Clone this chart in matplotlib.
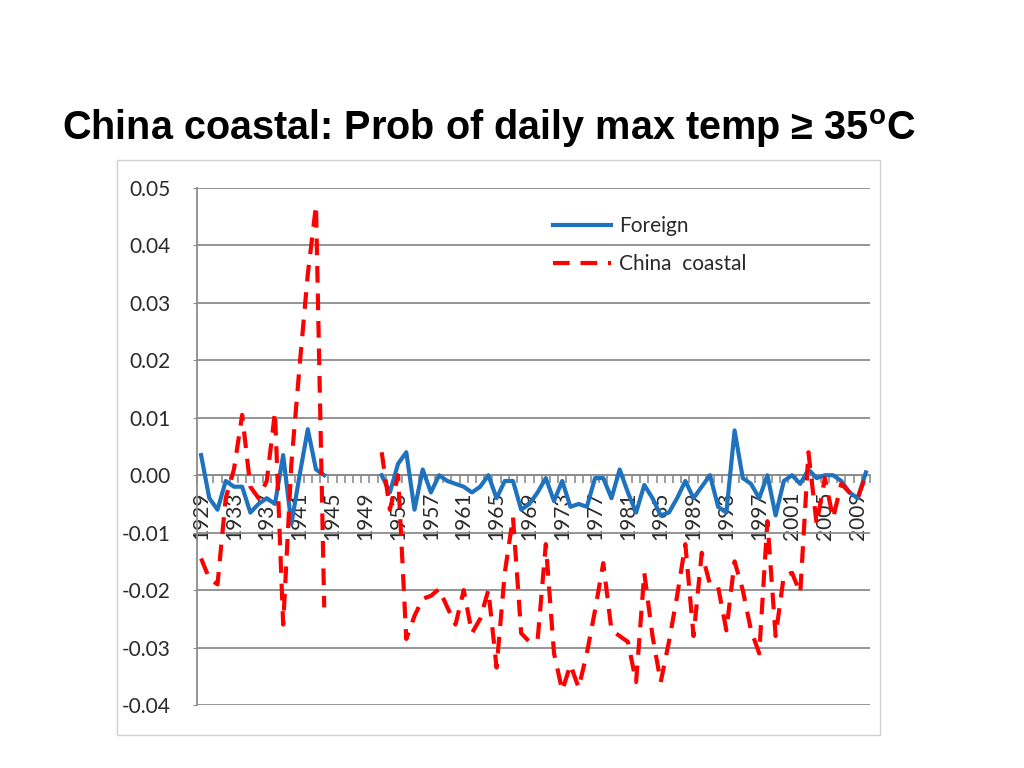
import numpy as np
import matplotlib
matplotlib.use("Agg")
import matplotlib.pyplot as plt
from matplotlib.patches import Rectangle

nan = np.nan

years = list(range(1929, 2011))

# Foreign stations (blue); no data 1945-1950
foreign = [0.0035, -0.004, -0.006, -0.001, -0.002, -0.002, -0.0065, -0.005,
           -0.004, -0.005, 0.0035, -0.0085, 0.0, 0.008, 0.001, 0.0,
           nan, nan, nan, nan, nan, nan,
           0.0, -0.003, 0.002, 0.004, -0.006, 0.001, -0.003, 0.0,
           -0.001, -0.0015, -0.002, -0.003, -0.002, 0.0, -0.004, -0.001,
           -0.001, -0.006, -0.005, -0.003, -0.0005, -0.0045, -0.001, -0.0055,
           -0.005, -0.0055, -0.0005, -0.0005, -0.004, 0.001, -0.003, -0.0065,
           -0.0017, -0.004, -0.007, -0.0065, -0.004, -0.001, -0.004, -0.002,
           0.0, -0.0055, -0.0065, 0.0078, -0.0005, -0.0015, -0.004, 0.0,
           -0.007, -0.001, 0.0, -0.0015, 0.001, -0.0005, 0.0, 0.0,
           -0.001, -0.003, -0.004, 0.0005]

# China coastal stations (red dashed)
china = [-0.0145, -0.018, -0.019, -0.004, 0.001, 0.0105, -0.002, -0.004,
         -0.001, 0.011, -0.026, 0.002, 0.019, 0.035, 0.047, -0.023,
         nan, nan, nan, nan, nan, nan,
         0.004, -0.006, 0.0, -0.0285, -0.0245, -0.0215, -0.021, -0.0198,
         -0.023, -0.026, -0.020, -0.0275, -0.025, -0.020, -0.0335, -0.017,
         -0.0073, -0.0275, -0.029, -0.0287, -0.012, -0.031, -0.0375, -0.033,
         -0.037, -0.031, -0.0235, -0.0153, -0.027, -0.028, -0.029, -0.036,
         -0.017, -0.028, -0.036, -0.029, -0.021, -0.012, -0.028, -0.0135,
         -0.019, -0.0195, -0.027, -0.015, -0.020, -0.027, -0.031, -0.008,
         -0.028, -0.0175, -0.017, -0.0205, 0.004, -0.0085, -0.0005, -0.0075,
         -0.0015, -0.003, -0.004, 0.0]

ytick_vals = [-0.04, -0.03, -0.02, -0.01, 0.0, 0.01, 0.02, 0.03, 0.04, 0.05]

plt.rcParams['font.family'] = ['Lato', 'DejaVu Sans']
plt.rcParams['mathtext.fontset'] = 'custom'
plt.rcParams['mathtext.rm'] = 'Liberation Sans:bold'

fig = plt.figure(figsize=(10.24, 7.68), dpi=100)
fig.patch.set_facecolor('white')

# title
fig.text(62 / 1024, 1 - 140 / 768,
         "China coastal: Prob of daily max temp \u2265 35$^{\\mathrm{o}}$C",
         family='Liberation Sans', fontweight='bold', fontsize=28.5,
         color='black', va='baseline', ha='left')

# chart border
fig.patches.append(Rectangle((117 / 1024, 1 - 735 / 768), 763 / 1024, 575 / 768,
                             transform=fig.transFigure, fill=False,
                             edgecolor='#d0d0d0', linewidth=1))

ax = fig.add_axes([197 / 1024, 1 - 705 / 768, 673 / 1024, 517 / 768])
x = np.arange(len(years))

ax.plot(x, foreign, color='#1f72be', linewidth=3, solid_joinstyle='round',
        label='Foreign', zorder=3)
ax.plot(x, china, color='#ff0000', linewidth=3, dashes=(4, 2.6),
        label='China  coastal', zorder=4)

ax.set_xlim(-0.5, len(years) - 0.5)
ax.set_ylim(-0.04, 0.05)

gray = '#8c8c8c'
txt = '#2a2a2a'
ax.set_yticks(ytick_vals)
ax.set_yticklabels([f"{v:.2f}" for v in ytick_vals])
ax.yaxis.grid(True, color=gray, linewidth=1.3)
ax.set_axisbelow(True)

ax.set_xticks(x[::4])
ax.set_xticklabels([str(y) for y in years[::4]])
ax.set_xticks(np.arange(-0.5, len(years), 1), minor=True)
ax.tick_params(axis='x', which='major', length=0, pad=12, labelrotation=90,
               labelsize=15, labelcolor=txt)
ax.tick_params(axis='x', which='minor', length=6, color=gray, width=1.2,
               direction='out')
ax.tick_params(axis='y', length=3, color=gray, pad=16, labelsize=15,
               labelcolor=txt)

ax.spines['bottom'].set_position(('data', 0))
ax.spines['bottom'].set_color(gray)
ax.spines['bottom'].set_linewidth(1.3)
ax.spines['left'].set_color(gray)
ax.spines['left'].set_linewidth(1.3)
ax.spines['top'].set_visible(False)
ax.spines['right'].set_visible(False)

leg = ax.legend(loc='upper left', bbox_to_anchor=(0.529, 0.945),
                frameon=False, borderpad=0, borderaxespad=0,
                handlelength=2.8, handletextpad=0.35, labelspacing=0.85,
                prop={'family': 'Lato', 'size': 15})
for t in leg.get_texts():
    t.set_color(txt)

fig.savefig('out.png', dpi=100, facecolor='white')
